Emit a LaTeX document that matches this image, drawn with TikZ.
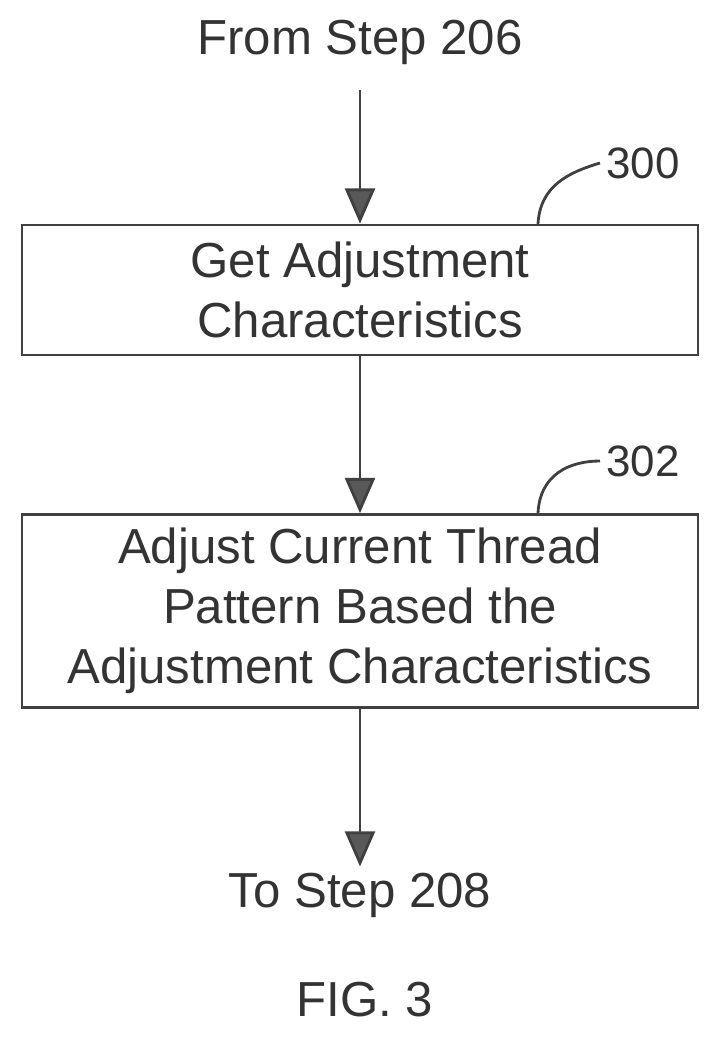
\documentclass[tikz,border=0pt]{standalone}
\usepackage{fontspec}
\setmainfont{Liberation Sans}
\usetikzlibrary{arrows.meta}
\begin{document}
\begin{tikzpicture}[x=0.02cm,y=-0.02cm,
  box/.style={draw=black!75,line width=1.6pt,minimum width=676*0.02cm,align=center,font=\fontsize{28}{34}\selectfont,text=black!80,inner sep=0pt},
  lbl/.style={font=\fontsize{28}{34}\selectfont,text=black!80},
  nlbl/.style={font=\fontsize{25}{30}\selectfont,text=black!80},
  arr/.style={draw=black!75,line width=1.6pt,-{Triangle[width=17pt,length=20pt,fill=black!65]}},
  lead/.style={draw=black!75,line width=1.6pt}]
\useasboundingbox (0,0) rectangle (721,1039);
\node[lbl] (from) at (360,42) {From Step 206};
\node[box,minimum height=130*0.02cm] (b1) at (360,290) {Get Adjustment\\Characteristics};
\node[box,minimum height=193*0.02cm] (b2) at (360,611) {Adjust Current Thread\\Pattern Based the\\Adjustment Characteristics};
\node[lbl] (to) at (360,895) {To Step 208};
\node[lbl] (fig) at (365,1000) {FIG. 3};
\node[nlbl,anchor=west] (n300) at (600,163) {300};
\node[nlbl,anchor=west] (n302) at (600,461) {302};
\draw[arr] (from.south) ++(0,20) -- (b1.north);
\draw[arr] (b1.south) -- (b2.north);
\draw[arr] (b2.south) -- (to.north);
\coordinate (c1) at (538,224);
\coordinate (c2) at (538,513);
\draw[lead] (c1) .. controls (540,185) and (570,172) .. (n300.west);
\draw[lead] (c2) .. controls (540,474) and (570,461) .. (n302.west);
\end{tikzpicture}
\end{document}
